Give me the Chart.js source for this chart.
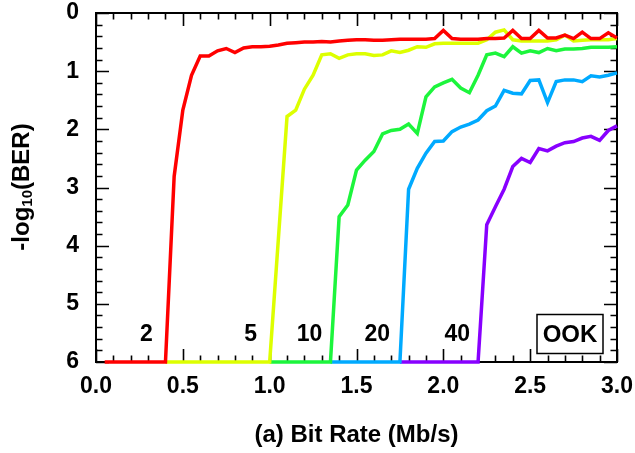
<!DOCTYPE html>
<html lang="en">
<head>
  <meta charset="UTF-8">
  <title>BER vs Bit Rate - OOK</title>
  <script src="https://cdn.jsdelivr.net/npm/chart.js"></script>
  <style>
    body {
      margin: 0;
      padding: 0;
      background-color: #fff;
    }
  </style>
</head>
<body>
  <canvas id="berChart" width="635" height="453"></canvas>

  <script>
    // bit rate samples (Mb/s), shared by every curve
    const bitRates = [
      0.05, 0.10, 0.15, 0.20, 0.25, 0.30, 0.35, 0.40, 0.45, 0.50,
      0.55, 0.60, 0.65, 0.70, 0.75, 0.80, 0.85, 0.90, 0.95, 1.00,
      1.05, 1.10, 1.15, 1.20, 1.25, 1.30, 1.35, 1.40, 1.45, 1.50,
      1.55, 1.60, 1.65, 1.70, 1.75, 1.80, 1.85, 1.90, 1.95, 2.00,
      2.05, 2.10, 2.15, 2.20, 2.25, 2.30, 2.35, 2.40, 2.45, 2.50,
      2.55, 2.60, 2.65, 2.70, 2.75, 2.80, 2.85, 2.90, 2.95, 3.00
    ];

    // -log10(BER) for each curve, null = not measured
    const ber2 = [
      6, 6, 6, 6, 6, 6, 6, 6, 2.81, 1.67,
      1.07, 0.74, 0.74, 0.65, 0.61, 0.68, 0.60, 0.58, 0.58, 0.57,
      0.55, 0.52, 0.51, 0.50, 0.50, 0.49, 0.50, 0.48, 0.47, 0.46,
      0.46, 0.47, 0.47, 0.46, 0.45, 0.45, 0.45, 0.45, 0.44, 0.30,
      0.44, 0.45, 0.45, 0.45, 0.44, 0.44, 0.43, 0.30, 0.44, 0.44,
      0.30, 0.43, 0.43, 0.38, 0.44, 0.33, 0.44, 0.44, 0.34, 0.43
    ];
    const ber5 = [
      null, null, null, null, null, null, null, 6, 6, 6,
      6, 6, 6, 6, 6, 6, 6, 6, 6, 6,
      null, 1.78, 1.67, 1.31, 1.07, 0.72, 0.70, 0.78, 0.72, 0.70,
      0.70, 0.73, 0.72, 0.65, 0.68, 0.64, 0.58, 0.59, 0.53, 0.52,
      0.52, 0.52, 0.52, 0.52, 0.46, 0.33, 0.29, 0.46, 0.48, 0.48,
      0.48, 0.48, 0.46, 0.38, 0.48, 0.47, 0.46, 0.46, 0.46, 0.44
    ];
    const ber10 = [
      null, null, null, null, null, null, null, null, null, null,
      null, null, null, null, null, null, null, null, null, 6,
      6, 6, 6, 6, 6, 6, 6, 3.50, 3.30, 2.70,
      2.53, 2.38, 2.08, 2.02, 2.00, 1.91, 2.07, 1.44, 1.27, 1.20,
      1.14, 1.29, 1.37, 1.07, 0.72, 0.69, 0.75, 0.58, 0.69, 0.65,
      0.68, 0.61, 0.65, 0.62, 0.62, 0.61, 0.59, 0.59, 0.59, 0.58
    ];
    const ber20 = [
      null, null, null, null, null, null, null, null, null, null,
      null, null, null, null, null, null, null, null, null, null,
      null, null, null, null, null, null, 6, 6, 6, 6,
      6, 6, 6, 6, 6, 3.03, 2.67, 2.41, 2.21, 2.20,
      2.04, 1.96, 1.91, 1.84, 1.68, 1.60, 1.33, 1.38, 1.39, 1.16,
      1.15, 1.54, 1.18, 1.15, 1.15, 1.18, 1.08, 1.10, 1.07, 1.03
    ];
    const ber40 = [
      null, null, null, null, null, null, null, null, null, null,
      null, null, null, null, null, null, null, null, null, null,
      null, null, null, null, null, null, null, null, null, null,
      null, null, null, null, 6, 6, 6, 6, 6, 6,
      6, 6, 6, 6, 3.64, 3.33, 3.03, 2.64, 2.50, 2.57,
      2.33, 2.37, 2.29, 2.23, 2.21, 2.15, 2.12, 2.19, 2.02, 1.94
    ];

    const curveNames = ['2', '5', '10', '20', '40'];
    const curveData = [ber2, ber5, ber10, ber20, ber40];
    const curveColors = ['#ff0000', '#ddff00', '#1cf53c', '#00aaff', '#8800ff'];
    // where the curve labels sit (bit rate, -log10 BER)
    const labelRates = [0.29, 0.89, 1.23, 1.62, 2.08];
    const labelLevel = 5.53;

    const xTicks = [0.0, 0.5, 1.0, 1.5, 2.0, 2.5, 3.0];
    const yTicks = [0, 1, 2, 3, 4, 5, 6];

    const FONT = "'Liberation Sans', Arial, sans-serif";

    // frame with inward ticks on all four sides
    const framePlugin = {
      id: 'frame',
      beforeDatasetsDraw(chart) {
        const { ctx, chartArea: a, scales: { x, y } } = chart;
        ctx.save();
        ctx.strokeStyle = '#000';
        ctx.lineWidth = 2;
        ctx.strokeRect(a.left, a.top, a.right - a.left, a.bottom - a.top);
        ctx.lineWidth = 1.6;
        ctx.beginPath();
        for (let i = 0; i <= 30; i++) {
          const px = Math.round(x.getPixelForValue(i / 10)) + 0.5;
          const len = i % 5 ? 6.5 : 13;
          ctx.moveTo(px, a.bottom); ctx.lineTo(px, a.bottom - len);
          ctx.moveTo(px, a.top); ctx.lineTo(px, a.top + len);
        }
        for (let i = 0; i <= 30; i++) {
          const py = Math.round(y.getPixelForValue(i / 5)) + 0.5;
          const len = i % 5 ? 6.5 : 13;
          ctx.moveTo(a.left, py); ctx.lineTo(a.left + len, py);
          ctx.moveTo(a.right, py); ctx.lineTo(a.right - len, py);
        }
        ctx.stroke();
        ctx.restore();
      },
      afterDraw(chart) {
        const { ctx, scales: { x, y } } = chart;
        ctx.save();
        ctx.fillStyle = '#000';

        // curve labels
        ctx.font = 'bold 23px ' + FONT;
        ctx.textAlign = 'center';
        ctx.textBaseline = 'middle';
        curveNames.forEach((name, i) => {
          ctx.fillText(name, x.getPixelForValue(labelRates[i]), y.getPixelForValue(labelLevel));
        });

        // OOK box
        ctx.font = 'bold 24px ' + FONT;
        ctx.fillText('OOK', 570, 335);
        ctx.lineWidth = 1.5;
        ctx.strokeStyle = '#000';
        ctx.strokeRect(537, 314.5, 66, 39);

        // y axis title with subscript
        ctx.translate(22, 187);
        ctx.rotate(-Math.PI / 2);
        ctx.textAlign = 'left';
        ctx.textBaseline = 'middle';
        const big = 'bold 24px ' + FONT, small = 'bold 15px ' + FONT;
        ctx.font = big;
        const w1 = ctx.measureText('-log').width;
        const w3 = ctx.measureText('(BER)').width;
        ctx.font = small;
        const w2 = ctx.measureText('10').width;
        let cx = -(w1 + w2 + w3) / 2;
        ctx.font = big;
        ctx.fillText('-log', cx, 0);
        cx += w1;
        ctx.font = small;
        ctx.fillText('10', cx, 6);
        cx += w2;
        ctx.font = big;
        ctx.fillText('(BER)', cx, 0);
        ctx.restore();
      }
    };

    const ctx = document.getElementById('berChart').getContext('2d');
    new Chart(ctx, {
      type: 'line',
      data: {
        datasets: curveData.map((vals, i) => ({
          label: curveNames[i],
          data: bitRates.map((r, j) => ({ x: r, y: vals[j] })),
          borderColor: curveColors[i],
          borderWidth: 3.5,
          pointRadius: 0,
          tension: 0,
          spanGaps: true,
          clip: false
        }))
      },
      options: {
        responsive: false,
        animation: false,
        layout: { padding: { top: 13, right: 18, left: 0, bottom: 0 } },
        plugins: {
          legend: { display: false },
          tooltip: { enabled: false }
        },
        scales: {
          x: {
            type: 'linear',
            min: 0,
            max: 3,
            afterFit: s => {
              s.height = 91;
              s.paddingLeft = 0;
              s.paddingRight = 0;
            },
            afterBuildTicks: s => { s.ticks = xTicks.map(v => ({ value: v })); },
            grid: { display: false },
            border: { display: false },
            ticks: {
              padding: 3,
              color: '#000',
              font: { family: FONT, size: 23, weight: 'bold' },
              maxRotation: 0,
              callback: v => v.toFixed(1)
            },
            title: {
              display: true,
              text: '(a) Bit Rate (Mb/s)',
              color: '#000',
              font: { family: FONT, size: 24, weight: 'bold' },
              padding: { top: 0, bottom: 3 }
            }
          },
          y: {
            type: 'linear',
            min: 0,
            max: 6,
            reverse: true,
            afterFit: s => {
              s.width = 96;
              s.paddingTop = 0;
              s.paddingBottom = 0;
            },
            afterBuildTicks: s => { s.ticks = yTicks.map(v => ({ value: v })); },
            grid: { display: false },
            border: { display: false },
            ticks: {
              padding: 9,
              color: '#000',
              font: { family: FONT, size: 23, weight: 'bold' }
            }
          }
        }
      },
      plugins: [framePlugin]
    });
  </script>
</body>
</html>
